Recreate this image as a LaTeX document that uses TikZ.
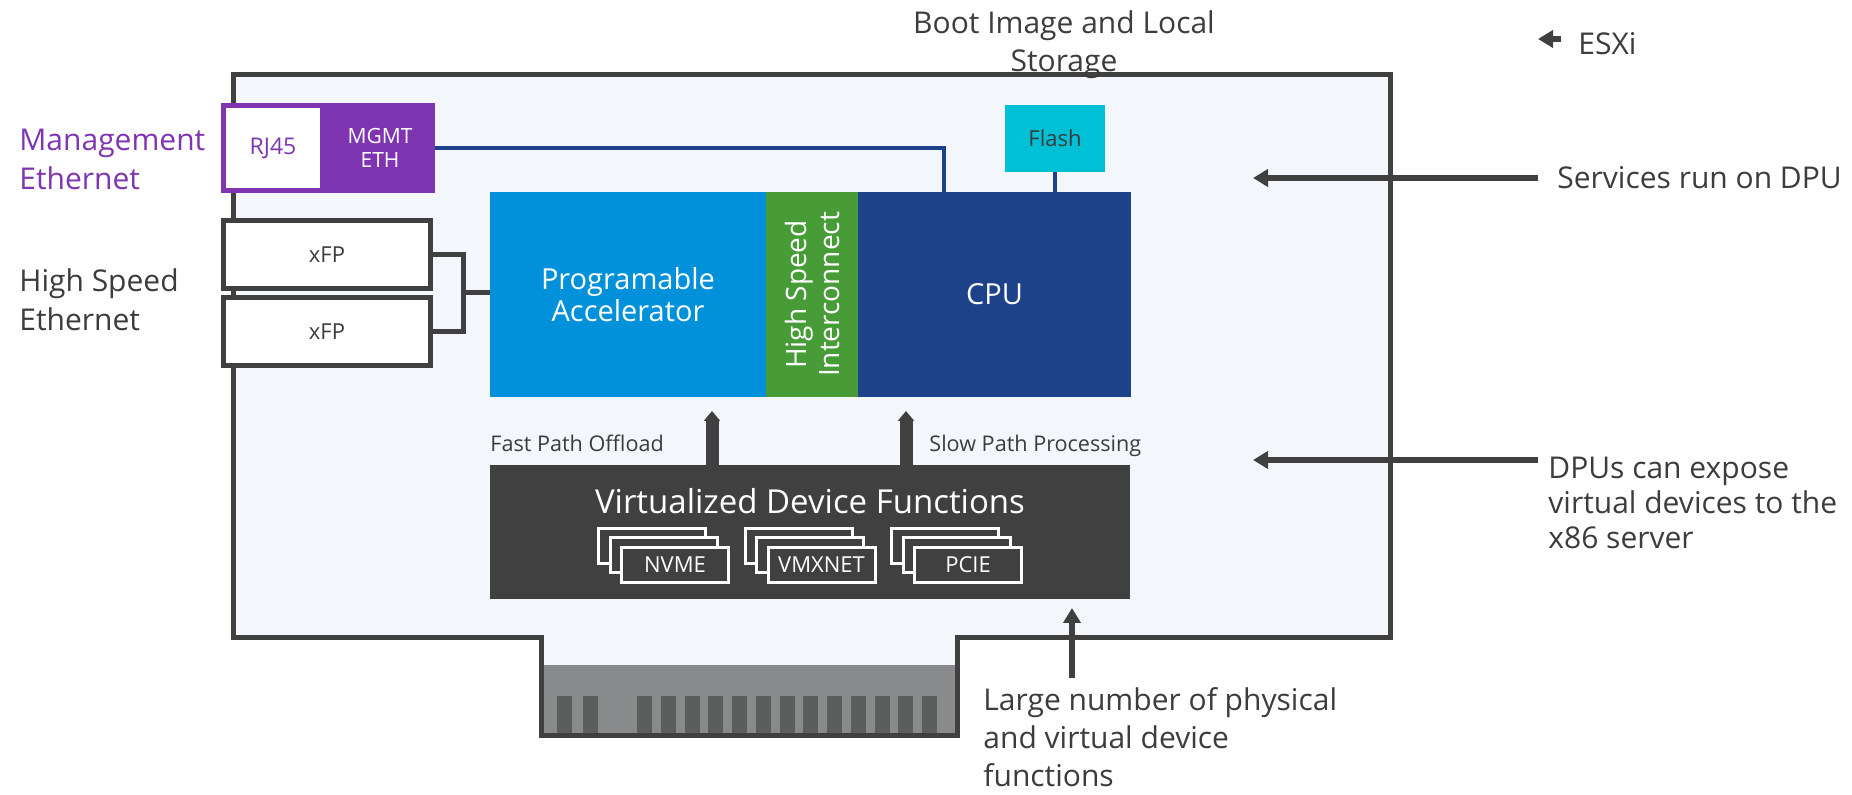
\documentclass[tikz,border=0pt]{standalone}
\usepackage{fontspec}
\setmainfont{Open Sans}
\usetikzlibrary{arrows.meta}
\definecolor{boardbg}{HTML}{F3F6FA}
\definecolor{edgegray}{HTML}{404040}
\definecolor{txtgray}{HTML}{3C3C3C}
\definecolor{mgmtpurple}{HTML}{7F35B2}
\definecolor{accblue}{HTML}{0091DA}
\definecolor{hsigreen}{HTML}{479C37}
\definecolor{cpublue}{HTML}{1D4289}
\definecolor{flashcyan}{HTML}{00C0D5}
\definecolor{tabgray}{HTML}{898A8C}
\definecolor{pingray}{HTML}{5C5E5D}

\begin{document}
\begin{tikzpicture}[x=0.5pt,y=-0.5pt,
  block/.style={inner sep=0pt,outer sep=0pt,text=white},
  midfont/.style={font=\fontsize{14.5pt}{16pt}\selectfont},
  smallfont/.style={font=\fontsize{10.5pt}{12pt}\selectfont},
  lbl/.style={inner sep=0pt,text=txtgray,align=left,font=\fontsize{15pt}{18.5pt}\selectfont},
  port/.style={draw=edgegray,line width=2.5pt,fill=white,minimum width=103.5pt,minimum height=34pt,inner sep=0pt,text=txtgray,font=\fontsize{11pt}{12pt}\selectfont},
  card/.style={draw=white,line width=1.5pt,fill=edgegray,minimum width=53.5pt,minimum height=17.5pt,inner sep=0pt,text=white,font=\fontsize{11pt}{12pt}\selectfont},
  wire/.style={draw=cpublue,line width=2pt},
  pointer/.style={draw=edgegray,line width=2.75pt,-{Triangle[length=7.5pt,width=8.5pt]}},
  fatarrow/.style={draw=edgegray,line width=6.5pt,-{Triangle[length=5pt,width=8pt]},shorten >=7pt}]
\useasboundingbox (0,0) rectangle (1852,795);

% board with edge connector
\draw[edgegray,line width=2.5pt,fill=boardbg] (233.5,75) -- (1390,75) -- (1390,638) -- (957,638) -- (957,735.5) -- (541,735.5) -- (541,638) -- (233.5,638) -- cycle;
\fill[tabgray] (543.5,665) rectangle (954.5,733);
\foreach \px in {557,583} \fill[pingray] (\px,696) rectangle ++(15,37);
\foreach \i in {0,...,12} \fill[pingray] (637+23.75*\i,696) rectangle ++(15,37);

\node[draw=mgmtpurple,line width=2.5pt,fill=white,minimum width=49.5pt,minimum height=42.5pt,inner sep=0pt,text=mgmtpurple,font=\fontsize{11.5pt}{12pt}\selectfont] (rj45) at (273,148) {RJ45};
\node[block,fill=mgmtpurple,minimum width=55pt,minimum height=45pt,align=center,smallfont] (mgmt) at (380,148) {MGMT\\ETH};
\node[port] (xfp1) at (327,254.5) {xFP};
\node[port] (xfp2) at (327,331.5) {xFP};

\node[block,fill=accblue,minimum width=138pt,minimum height=102.5pt,align=center,midfont] (acc) at (628,294.5) {Programable\\Accelerator};
\node[block,fill=hsigreen,rotate=90,minimum width=102.5pt,minimum height=46pt,align=center,font=\fontsize{14pt}{16.5pt}\selectfont] (hsi) at (812,294.5) {High Speed\\Interconnect};
\node[block,fill=cpublue,minimum width=136.5pt,minimum height=102.5pt,midfont] (cpu) at (994.5,294.5) {CPU};
\node[block,fill=flashcyan,minimum width=50pt,minimum height=33.5pt,text=txtgray,font=\fontsize{11pt}{12pt}\selectfont] (flash) at (1055,138.5) {Flash};

\coordinate (mgmtx) at (944,0);
\draw[wire] (mgmt.east) -| (cpu.north -| mgmtx);
\draw[wire] (flash.south) -- (cpu.north -| flash.south);
\coordinate (hub) at (463,293);
\draw[edgegray,line width=2.5pt] (xfp1.east) -| (hub) |- (xfp2.east);
\draw[edgegray,line width=2.5pt] (hub) -- (acc.west |- hub);

% virtualized functions
\node[block,fill=edgegray,minimum width=320pt,minimum height=67pt] (vdf) at (810,532) {};
\node[block,font=\fontsize{16.5pt}{18pt}\selectfont] (vdftitle) at (810,501) {Virtualized Device Functions};
\foreach \cx/\nm/\txt in {675/nvme/NVME,821.5/vmx/VMXNET,968/pcie/PCIE}{
  \node[card] (\nm-back) at (\cx-23,546) {};
  \node[card] (\nm-mid) at (\cx-11.5,555.5) {};
  \node[card] (\nm) at (\cx,565) {\txt};
}

\coordinate (fastx) at (712,0);
\coordinate (slowx) at (906,0);
\draw[fatarrow] (vdf.north -| fastx) -- (acc.south -| fastx);
\draw[fatarrow] (vdf.north -| slowx) -- (cpu.south -| slowx);
\node[inner sep=0pt,text=txtgray,anchor=base west,font=\fontsize{10.8pt}{12pt}\selectfont] (fast) at (490,452) {Fast Path Offload};
\node[inner sep=0pt,text=txtgray,anchor=base west,font=\fontsize{10.8pt}{12pt}\selectfont] (slow) at (929,452) {Slow Path Processing};

% labels round the card
\node[lbl,text=mgmtpurple,anchor=base west,font=\fontsize{15pt}{19.5pt}\selectfont] (mgmtlbl) at (19,190) {Management\\Ethernet};
\node[lbl,anchor=base west,font=\fontsize{15pt}{19.5pt}\selectfont] (hselbl) at (19,331) {High Speed\\Ethernet};
\node[lbl,align=center,anchor=base,font=\fontsize{15pt}{19pt}\selectfont] (boot) at (1064,72) {Boot Image and Local\\Storage};
\node[lbl,anchor=base west] (esxi) at (1578,55) {ESXi};
\node[lbl,anchor=base west] (svc) at (1557,189) {Services run on DPU};
\node[lbl,anchor=base west,font=\fontsize{15pt}{17.5pt}\selectfont] (dpu) at (1548,549) {DPUs can expose\\virtual devices to the\\x86 server};
\node[lbl,anchor=base west,font=\fontsize{15pt}{19pt}\selectfont] (many) at (983,786) {Large number of physical\\and virtual device\\functions};

\coordinate (esxitip) at (1538,39);
\coordinate (svctip) at (1253,178);
\coordinate (dputip) at (1253,460);
\coordinate (manytip) at (1072,608);
\coordinate (manytail) at (1072,678);
\draw[pointer,shorten <=8.5pt] (esxi.west |- esxitip) -- (esxitip);
\draw[pointer,shorten <=9.5pt] (svc.west |- svctip) -- (svctip);
\draw[pointer,shorten <=5pt] (dpu.west |- dputip) -- (dputip);
\draw[pointer] (manytail) -- (manytip);
\end{tikzpicture}
\end{document}
